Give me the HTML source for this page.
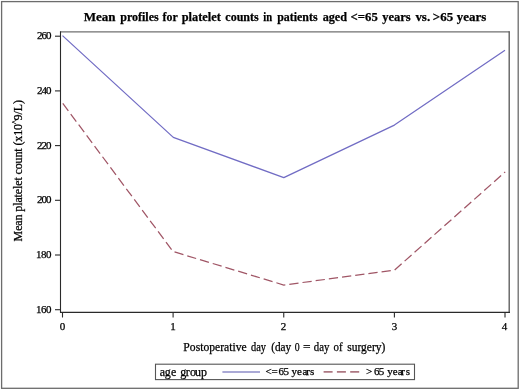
<!DOCTYPE html>
<html>
<head>
<meta charset="utf-8">
<style>
html,body{margin:0;padding:0;background:#fff;}
body{width:520px;height:390px;overflow:hidden;}
svg{display:block;will-change:transform;}
text{font-family:"Liberation Serif",serif;fill:#000;stroke:#000;stroke-width:0.25px;}
</style>
</head>
<body>
<svg width="520" height="390" viewBox="0 0 520 390">
<rect x="0" y="0" width="520" height="390" fill="#fff"/>
<!-- outer border -->
<rect x="1.6" y="1.6" width="516.6" height="386.7" fill="none" stroke="#6c6c6c" stroke-width="1.3"/>
<!-- title -->
<g font-size="13" font-weight="bold" style="stroke:none" lengthAdjust="spacingAndGlyphs">
<text x="83.68" y="21" textLength="31.92" lengthAdjust="spacingAndGlyphs">Mean</text>
<text x="120.23" y="21" textLength="38.48" lengthAdjust="spacingAndGlyphs">profiles</text>
<text x="162.60" y="21" textLength="15.17" lengthAdjust="spacingAndGlyphs">for</text>
<text x="181.73" y="21" textLength="39.12" lengthAdjust="spacingAndGlyphs">platelet</text>
<text x="225.36" y="21" textLength="33.36" lengthAdjust="spacingAndGlyphs">counts</text>
<text x="263.21" y="21" textLength="8.88" lengthAdjust="spacingAndGlyphs">in</text>
<text x="277.23" y="21" textLength="40.38" lengthAdjust="spacingAndGlyphs">patients</text>
<text x="322.68" y="21" textLength="24.36" lengthAdjust="spacingAndGlyphs">aged</text>
<text x="350.55" y="21" textLength="27.22" lengthAdjust="spacingAndGlyphs">&lt;=65</text>
<text x="382.17" y="21" textLength="28.54" lengthAdjust="spacingAndGlyphs">years</text>
<text x="415.40" y="21" textLength="14.77" lengthAdjust="spacingAndGlyphs">vs.</text>
<text x="432.84" y="21" textLength="20.34" lengthAdjust="spacingAndGlyphs">&gt;65</text>
<text x="456.77" y="21" textLength="29.54" lengthAdjust="spacingAndGlyphs">years</text>
</g>
<!-- plot frame -->
<line x1="60.5" y1="31.85" x2="509.5" y2="31.85" stroke="#707070" stroke-width="1.4"/>
<line x1="509.2" y1="31.2" x2="509.2" y2="313" stroke="#555" stroke-width="1.3"/>
<line x1="60.5" y1="31.2" x2="60.5" y2="313" stroke="#2a2a2a" stroke-width="1.1"/>
<line x1="60" y1="312.4" x2="510" y2="312.4" stroke="#2a2a2a" stroke-width="1.2"/>
<!-- y ticks -->
<g stroke="#2a2a2a" stroke-width="1.1">
<line x1="55" y1="36.2" x2="60.5" y2="36.2"/>
<line x1="55" y1="90.9" x2="60.5" y2="90.9"/>
<line x1="55" y1="145.6" x2="60.5" y2="145.6"/>
<line x1="55" y1="200.3" x2="60.5" y2="200.3"/>
<line x1="55" y1="255" x2="60.5" y2="255"/>
<line x1="55" y1="309.7" x2="60.5" y2="309.7"/>
</g>
<g font-size="11" text-anchor="end">
<text x="51.5" y="39.3" textLength="14.6">260</text>
<text x="51.5" y="94" textLength="14.6">240</text>
<text x="51.5" y="148.7" textLength="14.6">220</text>
<text x="51.5" y="203.4" textLength="14.6">200</text>
<text x="51.5" y="258.1" textLength="15.6">180</text>
<text x="51.5" y="312.8" textLength="15.6">160</text>
</g>
<!-- x ticks -->
<g stroke="#2a2a2a" stroke-width="1.1">
<line x1="62.5" y1="312.5" x2="62.5" y2="317.5"/>
<line x1="173.1" y1="312.5" x2="173.1" y2="317.5"/>
<line x1="283.75" y1="312.5" x2="283.75" y2="317.5"/>
<line x1="394.4" y1="312.5" x2="394.4" y2="317.5"/>
<line x1="505" y1="312.5" x2="505" y2="317.5"/>
</g>
<g font-size="11" text-anchor="middle">
<text x="62.5" y="330.3">0</text>
<text x="173.1" y="330.3">1</text>
<text x="283.6" y="330.3">2</text>
<text x="394.4" y="330.3">3</text>
<text x="504.6" y="330.3">4</text>
</g>
<!-- axis labels -->
<g font-size="11.8" style="stroke-width:0.1px">
<text x="183.36" y="351.3" textLength="63.25" lengthAdjust="spacingAndGlyphs">Postoperative</text>
<text x="250.97" y="351.3" textLength="14.97" lengthAdjust="spacingAndGlyphs">day</text>
<text x="271.28" y="351.3" textLength="19.96" lengthAdjust="spacingAndGlyphs">(day</text>
<text x="294.85" y="351.3" textLength="4.90" lengthAdjust="spacingAndGlyphs">0</text>
<text x="302.91" y="351.3" textLength="7.56" lengthAdjust="spacingAndGlyphs">=</text>
<text x="313.77" y="351.3" textLength="15.57" lengthAdjust="spacingAndGlyphs">day</text>
<text x="333.55" y="351.3" textLength="9.05" lengthAdjust="spacingAndGlyphs">of</text>
<text x="347.22" y="351.3" textLength="38.10" lengthAdjust="spacingAndGlyphs">surgery)</text>
</g>
<text transform="translate(21.6,241.4) rotate(-90)" font-size="12" textLength="141.3">Mean platelet count (x10<tspan font-size="8" dy="-3.2">^</tspan><tspan dy="3.2">9/L)</tspan></text>
<!-- data -->
<polyline points="62.5,35.6 173.3,137.4 283.8,177.6 394.4,125.1 505,50.3" fill="none" stroke="#716cc4" stroke-width="1.25" stroke-linejoin="round"/>
<polyline points="62.8,103.4 173,251.5 283.75,285 394.4,270.2 505.2,171.9" fill="none" stroke="#a05666" stroke-width="1.25" stroke-dasharray="9.3 4"/>
<!-- legend -->
<rect x="155.5" y="364.2" width="259" height="15.4" fill="none" stroke="#555" stroke-width="1.1"/>
<text x="159.68 164.83 170.88 176.21 180.33 185.86 189.89 194.94 200.91" y="375.5" font-size="12">age group</text>
<line x1="222.4" y1="372" x2="260" y2="372" stroke="#8e8cc8" stroke-width="1.6"/>
<text x="265.5 271.4 278.48 283.41 288.91 291.52 297.02 302.56 306.13 310.0" y="375" font-size="11">&lt;=65 years</text>
<line x1="323.6" y1="371.9" x2="360" y2="371.9" stroke="#ad7882" stroke-width="1.6" stroke-dasharray="9 4.3"/>
<text x="366.04 373.88 378.71 384.21 387.22 392.67 397.71 401.13 405.65" y="375" font-size="11">&gt;65 years</text>
</svg>
</body>
</html>
